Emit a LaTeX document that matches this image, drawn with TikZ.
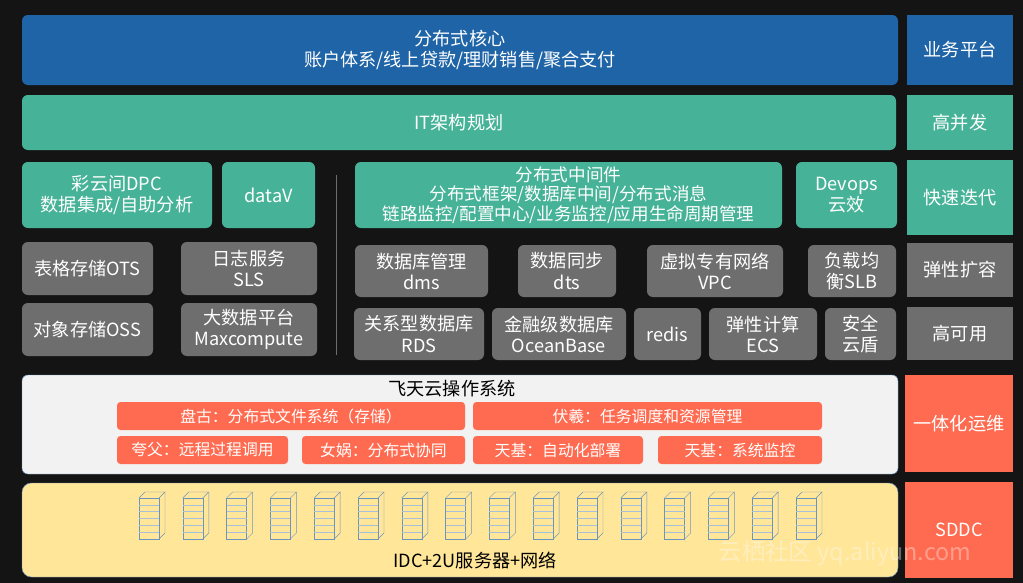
\documentclass[tikz,border=0pt]{standalone}
\usepackage{fontspec}
\setmainfont{Noto Sans CJK SC}
\usetikzlibrary{fit}
\definecolor{bgdark}{HTML}{141414}
\definecolor{coreblue}{HTML}{1E64A6}
\definecolor{teal}{HTML}{46B398}
\definecolor{svcgray}{HTML}{6E6E6E}
\definecolor{opsred}{HTML}{FF6B50}
\definecolor{osgray}{HTML}{F2F2F2}
\definecolor{idcyellow}{HTML}{FFE699}
\definecolor{rackblue}{HTML}{6C95BD}

\begin{document}
\begin{tikzpicture}[
  x=0.03cm, y=-0.03cm,
  blk/.style={inner sep=0pt, rounded corners=5pt},
  corebox/.style={blk, fill=coreblue},
  tealbox/.style={blk, fill=teal},
  graybox/.style={blk, fill=svcgray},
  sidebox/.style={blk, rounded corners=0pt},
  osbox/.style={blk, fill=opsred, rounded corners=3pt},
  lbl/.style={align=center, text=white, inner sep=0pt,
    font=\fontsize{15.5}{18}\selectfont},
  smalllbl/.style={lbl, font=\fontsize{13.5}{15}\selectfont}
]

% Background
\fill[bgdark] (0,0) rectangle (1023,583);

% Top layers
\node[corebox, fit={(22,15) (898,85)}] (core) {};
\node[lbl] at (core) {分布式核心\\账户体系/线上贷款/理财销售/聚合支付};
\node[tealbox, fit={(22,95) (896,150)}] (itplan) {};
\node[lbl] at (itplan) {IT架构规划};

% PaaS row
\node[tealbox, fit={(22,162) (212,228)}] (dpc) {};
\node[lbl] at (dpc) {彩云间DPC\\数据集成/自助分析};
\node[tealbox, fit={(222,162) (315,228)}] (datav) {};
\node[lbl] at (datav) {dataV};
\node[tealbox, fit={(355,162) (782,228)}] (mid) {};
\node[lbl, font=\fontsize{15}{16.5}\selectfont] at (mid) {分布式中间件\\分布式框架/数据库中间/分布式消息\\链路监控/配置中心/业务监控/应用生命周期管理};
\node[tealbox, fit={(796,162) (897,228)}] (devops) {};
\node[lbl] at (devops) {Devops\\云效};
\draw[svcgray, thick] (336,175) -- (336,355);

% Cloud services
\node[graybox, fit={(22,242) (153,295)}] (ots) {};
\node[lbl] at (ots) {表格存储OTS};
\node[graybox, fit={(181,242) (317,295)}] (sls) {};
\node[lbl] at (sls) {日志服务\\SLS};
\node[graybox, fit={(22,303) (153,356)}] (oss) {};
\node[lbl] at (oss) {对象存储OSS};
\node[graybox, fit={(181,303) (317,356)}] (maxc) {};
\node[lbl] at (maxc) {大数据平台\\Maxcompute};
\node[graybox, fit={(355,245) (488,297)}] (dms) {};
\node[lbl] at (dms) {数据库管理\\dms};
\node[graybox, fit={(518,245) (616,297)}] (dts) {};
\node[lbl] at (dts) {数据同步\\dts};
\node[graybox, fit={(647,245) (783,297)}] (vpc) {};
\node[lbl] at (vpc) {虚拟专有网络\\VPC};
\node[graybox, fit={(808,245) (896,297)}] (slb) {};
\node[lbl] at (slb) {负载均\\衡SLB};
\node[graybox, fit={(354,308) (484,360)}] (rds) {};
\node[lbl] at (rds) {关系型数据库\\RDS};
\node[graybox, fit={(492,308) (626,360)}] (ocean) {};
\node[lbl] at (ocean) {金融级数据库\\OceanBase};
\node[graybox, fit={(634,308) (701,360)}] (redis) {};
\node[lbl] at (redis) {redis};
\node[graybox, fit={(709,308) (817,360)}] (ecs) {};
\node[lbl] at (ecs) {弹性计算\\ECS};
\node[graybox, fit={(825,308) (896,360)}] (shield) {};
\node[lbl] at (shield) {安全\\云盾};

% Apsara OS
\node[blk, fill=osgray, draw=rackblue, fit={(22,375) (898,474)}] (apsara) {};
\node[lbl, text=black] (apsaratitle) at (452,389) {飞天云操作系统};
\node[osbox, fit={(117,402) (465,430)}] (pangu) {};
\node[smalllbl] at (pangu) {盘古：分布式文件系统（存储）};
\node[osbox, fit={(473,402) (822,430)}] (fuxi) {};
\node[smalllbl] at (fuxi) {伏羲：任务调度和资源管理};
\node[osbox, fit={(117,436) (288,464)}] (kuafu) {};
\node[smalllbl] at (kuafu) {夸父：远程过程调用};
\node[osbox, fit={(302,436) (465,464)}] (nuwa) {};
\node[smalllbl] at (nuwa) {女娲：分布式协同};
\node[osbox, fit={(473,436) (643,464)}] (deploy) {};
\node[smalllbl] at (deploy) {天基：自动化部署};
\node[osbox, fit={(658,436) (822,464)}] (monitor) {};
\node[smalllbl] at (monitor) {天基：系统监控};

% IDC
\node[blk, fill=idcyellow, draw=rackblue, rounded corners=8pt, fit={(22,483) (898,577)}] (idc) {};
\foreach \i in {0,...,15} {
  \begin{scope}[shift={(139+\i*43.8,492)}, rackblue]
    \fill[idcyellow] (0,6) rectangle (20,47);
    \draw (0,6) rectangle (20,47);
    \draw (0,6) -- (6,0) -- (26,0) -- (20,6);
    \draw (26,0) -- (26,41) -- (20,47);
    \foreach \k in {1,...,5} \draw[rackblue!60] (0,6+\k*6.8) -- (20,6+\k*6.8);
  \end{scope}
}
\node[lbl, text=black] (idctext) at (475,560) {IDC+2U服务器+网络};

% Side column
\node[sidebox, fill=coreblue, fit={(907,15) (1013,85)}] (biz) {};
\node[lbl] at (biz) {业务平台};
\node[sidebox, fill=teal, fit={(907,95) (1013,150)}] (conc) {};
\node[lbl] at (conc) {高并发};
\node[sidebox, fill=teal, fit={(907,160) (1013,235)}] (iter) {};
\node[lbl] at (iter) {快速迭代};
\node[sidebox, fill=svcgray, fit={(907,243) (1013,297)}] (scale) {};
\node[lbl] at (scale) {弹性扩容};
\node[sidebox, fill=svcgray, fit={(907,307) (1013,360)}] (ha) {};
\node[lbl] at (ha) {高可用};
\node[sidebox, fill=opsred, fit={(905,375) (1013,472)}] (ops) {};
\node[lbl] at (ops) {一体化运维};
\node[sidebox, fill=opsred, fit={(905,482) (1013,578)}] (sddc) {};
\node[lbl] at (sddc) {SDDC};

% Watermark
\node[text=white, opacity=0.35, font=\fontsize{20}{22}\selectfont] (mark) at (845,553) {云栖社区 yq.aliyun.com};

\end{tikzpicture}
\end{document}
